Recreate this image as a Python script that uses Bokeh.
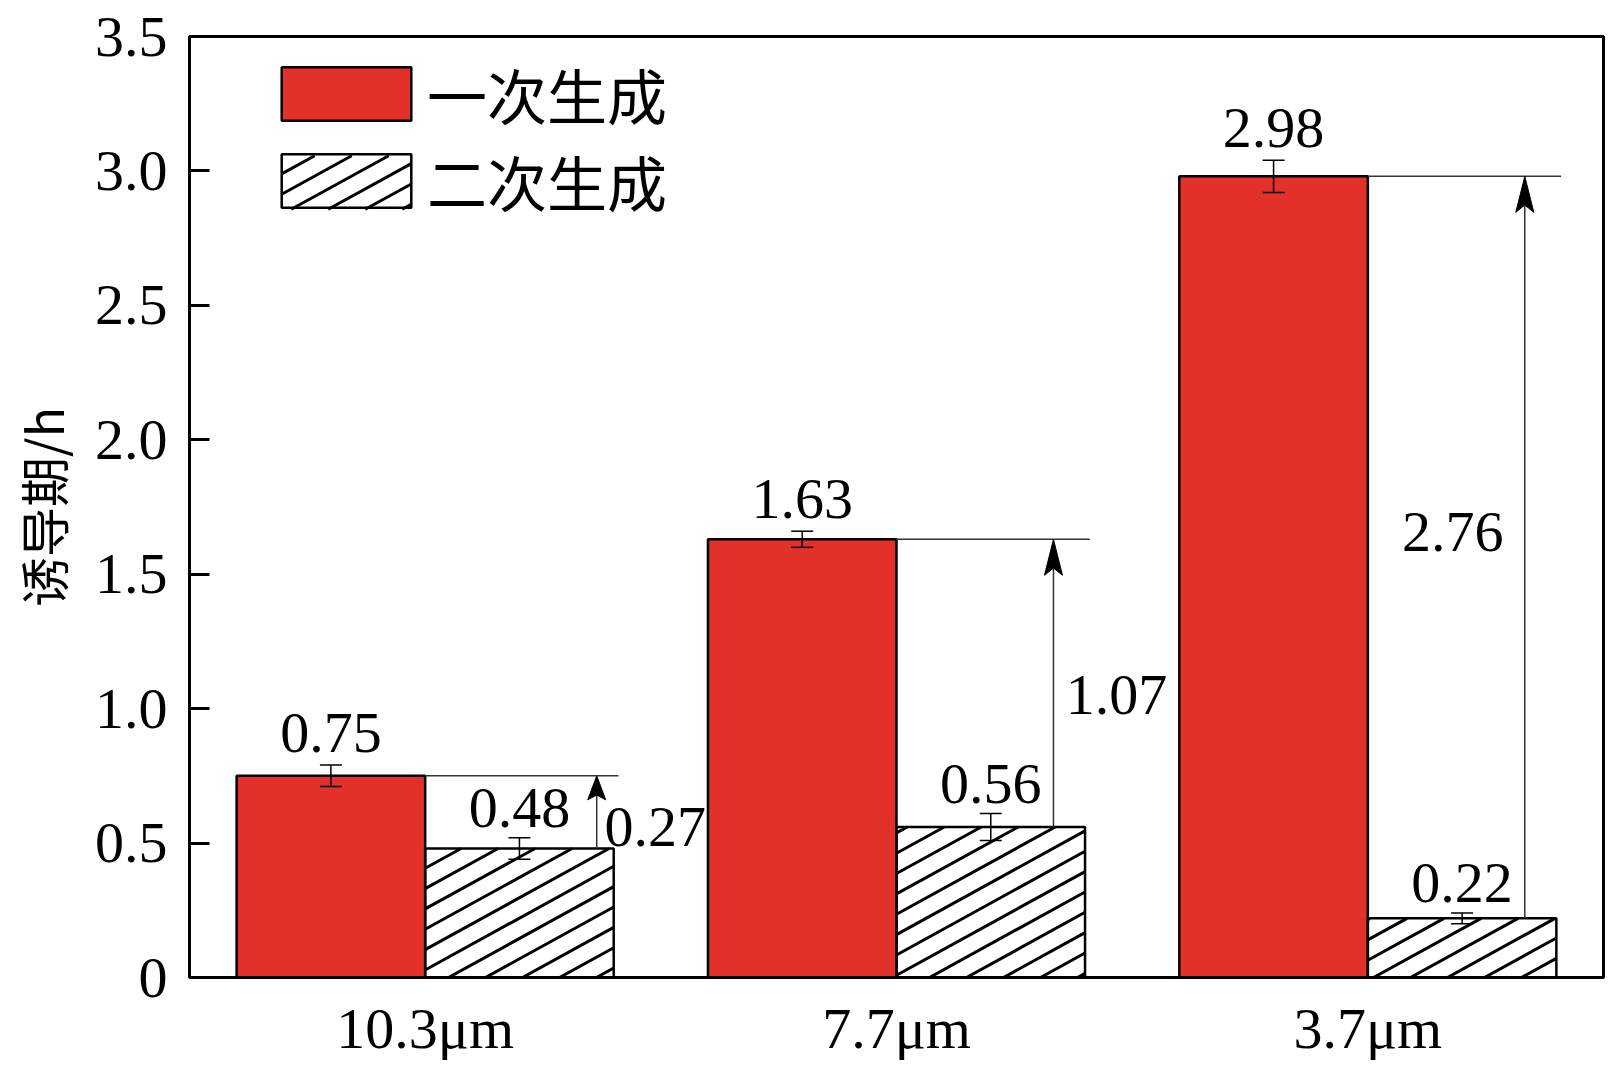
import math
from bokeh.plotting import figure
from bokeh.models import (ColumnDataSource, Range1d, FixedTicker, Whisker, TeeHead,
                          Legend, LegendItem)
from bokeh.core.properties import value
from bokeh.embed import file_html
from bokeh.resources import INLINE

# ---- data ----
categories = ["10.3\u03bcm", "7.7\u03bcm", "3.7\u03bcm"]
primary = [0.75, 1.63, 2.98]          # 一次生成
secondary = [0.48, 0.56, 0.22]        # 二次生成
primary_err = [0.04, 0.03, 0.06]
secondary_err = [0.04, 0.05, 0.02]
differences = [0.27, 1.07, 2.76]
series_names = ["一次生成", "二次生成"]
y_ticks = [0, 0.5, 1.0, 1.5, 2.0, 2.5, 3.0, 3.5]
y_tick_labels = ["0", "0.5", "1.0", "1.5", "2.0", "2.5", "3.0", "3.5"]

# ---- style ----
RED = "#e2302b"
SERIF = "Liberation Serif"
FS = "58px"
bar_w = 0.4
FRAME_W, FRAME_H = 1414, 941
X0, X1, Y0, Y1 = -0.5, 2.5, 0.0, 3.5
px_x = FRAME_W / (X1 - X0)
px_y = FRAME_H / (Y1 - Y0)
arrow_dx = [0.364, 0.333, 0.333]
arrow_head_px = [24, 36, 36]
diff_label_dx = [0.488, 0.467, 0.18]
diff_label_frac = [0.30, 0.46, 0.52]
HATCH_SLOPE, HATCH_SPACING = 0.55, 37      # px
LEG_X, LEG_Y = 76, 753                     # legend bottom-left, px from frame bottom-left
LEG_GW, LEG_GH, LEG_ITEM_H = 162, 67, 84


def hatch_lines(L, R, B, T, xs, ys):
    """shallow '/' hatch lines (pixel space, frame origin) clipped to a rect, returned in data units"""
    dc = HATCH_SPACING * HATCH_SLOPE
    kmin = math.floor((B - HATCH_SLOPE * R) / dc) - 1
    kmax = math.ceil((T - HATCH_SLOPE * L) / dc) + 1
    for k in range(kmin, kmax + 1):
        c = k * dc
        a = max(L, (B - c) / HATCH_SLOPE)
        b = min(R, (T - c) / HATCH_SLOPE)
        if b - a > 0.5:
            xs.append([X0 + a / px_x, X0 + b / px_x])
            ys.append([Y0 + (HATCH_SLOPE * a + c) / px_y, Y0 + (HATCH_SLOPE * b + c) / px_y])


n = len(categories)
idx = list(range(n))

p = figure(frame_width=FRAME_W, frame_height=FRAME_H,
           x_range=Range1d(X0, X1), y_range=Range1d(Y0, Y1),
           output_backend="svg", toolbar_location=None,
           min_border_left=189, min_border_top=36, min_border_right=8, min_border_bottom=86)
p.background_fill_color = "white"
p.border_fill_color = "white"
p.outline_line_color = "black"
p.outline_line_width = 3
p.xgrid.visible = False
p.ygrid.visible = False

src1 = ColumnDataSource(dict(x=[i - bar_w / 2 for i in idx], top=primary,
                             up=[v + e for v, e in zip(primary, primary_err)],
                             lo=[v - e for v, e in zip(primary, primary_err)],
                             lab=[f"{v:.2f}" for v in primary],
                             ly=[v + e + 0.12 for v, e in zip(primary, primary_err)]))
src2 = ColumnDataSource(dict(x=[i + bar_w / 2 for i in idx], top=secondary,
                             up=[v + e for v, e in zip(secondary, secondary_err)],
                             lo=[v - e for v, e in zip(secondary, secondary_err)],
                             lab=[f"{v:.2f}" for v in secondary],
                             ly=[v + e + 0.11 for v, e in zip(secondary, secondary_err)]))

# hatch lines for the secondary bars and for the legend swatch
hx, hy = [], []
for xc, top in zip(src2.data["x"], secondary):
    hatch_lines((xc - bar_w / 2 - X0) * px_x, (xc + bar_w / 2 - X0) * px_x,
                0.0, (top - Y0) * px_y, hx, hy)
ix, iy = LEG_GW * 0.1, LEG_GH * 0.1
gy = LEG_Y + (LEG_ITEM_H - LEG_GH) / 2
hatch_lines(LEG_X + ix, LEG_X + LEG_GW - ix, gy + iy, gy + LEG_GH - iy, hx, hy)

r1 = p.vbar(x="x", top="top", width=bar_w, bottom=0, source=src1,
            fill_color=RED, line_color="black", line_width=2.5)
p.multi_line(xs=hx, ys=hy, line_color="black", line_width=3)
r2 = p.vbar(x="x", top="top", width=bar_w, bottom=0, source=src2,
            fill_color=None, line_color="black", line_width=2.5)

for s in (src1, src2):
    w = Whisker(source=s, base="x", upper="up", lower="lo", dimension="height",
                line_color="black", line_width=1.5, level="overlay",
                upper_head=TeeHead(size=22, line_width=1.5, line_color="black"),
                lower_head=TeeHead(size=22, line_width=1.5, line_color="black"))
    p.add_layout(w)
    p.text(x="x", y="ly", text="lab", source=s, text_align="center",
           text_baseline="middle", text_font=value(SERIF), text_font_size=FS,
           text_color="black")

# reference lines at primary bar tops
p.segment(x0=idx, y0=primary, x1=[i + 0.41 for i in idx], y1=primary,
          line_color="#333333", line_width=1.5)

# arrows from secondary top to primary top
ax = [i + d for i, d in zip(idx, arrow_dx)]
head_len = [h / px_y for h in arrow_head_px]
p.segment(x0=ax, y0=secondary, x1=ax, y1=[v - h * 0.8 for v, h in zip(primary, head_len)],
          line_color="#333333", line_width=1.5)
hw = 9 / px_x
xs = [[x - hw, x, x + hw, x] for x in ax]
ys = [[v - h, v, v - h, v - h * 0.8] for v, h in zip(primary, head_len)]
p.patches(xs=xs, ys=ys, fill_color="black", line_color="black", line_width=1)

# difference labels
dlx = [i + d for i, d in zip(idx, diff_label_dx)]
dly = [s + f * d for s, f, d in zip(secondary, diff_label_frac, differences)]
p.text(x=dlx, y=dly, text=[f"{d:.2f}" for d in differences], text_align="center",
       text_baseline="middle", text_font=value(SERIF), text_font_size=FS, text_color="black")

# axes
p.xaxis.ticker = FixedTicker(ticks=idx)
p.xaxis.major_label_overrides = {i: c for i, c in zip(idx, categories)}
p.yaxis.ticker = FixedTicker(ticks=y_ticks)
p.yaxis.major_label_overrides = {t: l for t, l in zip(y_ticks, y_tick_labels)}
for ax_ in (p.xaxis, p.yaxis):
    ax_.axis_line_width = 3
    ax_.axis_line_color = "black"
    ax_.major_label_text_font = SERIF
    ax_.major_label_text_font_size = FS
    ax_.major_label_text_color = "black"
    ax_.minor_tick_line_color = None
p.xaxis.major_tick_line_color = None
p.xaxis.major_label_standoff = 12
p.yaxis.major_tick_in = 20
p.yaxis.major_tick_out = 0
p.yaxis.major_tick_line_width = 3
p.yaxis.major_tick_line_color = "black"
p.yaxis.major_label_standoff = 22
p.yaxis.axis_label = "诱导期/h"
p.yaxis.axis_label_text_font = "Noto Sans CJK SC"
p.yaxis.axis_label_text_font_size = "50px"
p.yaxis.axis_label_text_font_style = "normal"
p.yaxis.axis_label_text_color = "black"
p.yaxis.axis_label_standoff = 14

legend = Legend(items=[LegendItem(label=series_names[0], renderers=[r1]),
                       LegendItem(label=series_names[1], renderers=[r2])],
                location=(LEG_X, LEG_Y),
                glyph_width=LEG_GW, glyph_height=LEG_GH, label_height=LEG_GH,
                label_standoff=0, spacing=-3, padding=0, margin=0,
                border_line_color=None, background_fill_alpha=0,
                label_text_font="Noto Sans CJK SC", label_text_font_size="60px",
                label_text_color="black")
p.add_layout(legend)

open("out.html", "w").write(file_html(p, INLINE))
